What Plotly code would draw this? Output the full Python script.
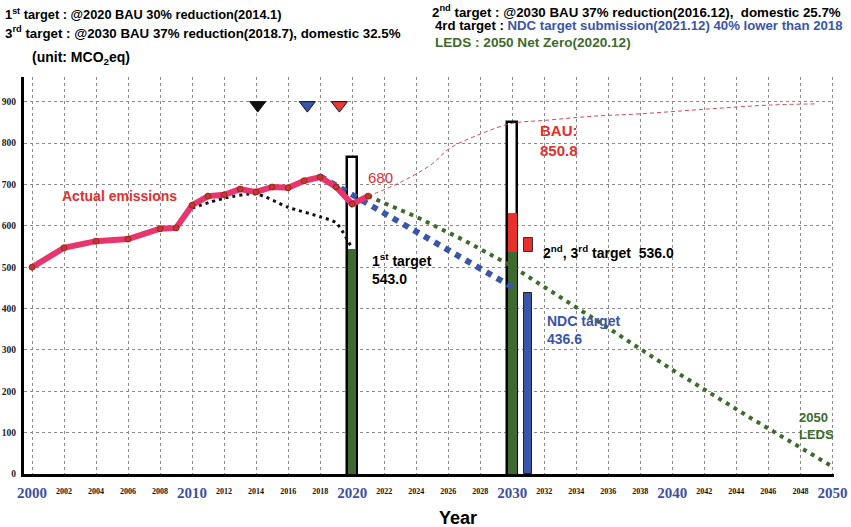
import plotly.graph_objects as go

W, H = 851, 527
ML, MR, MT, MB = 24, 17, 77, 53
X_RANGE = [1999.5, 2050.1]
Y_RANGE = [0, 960]

# ---------------- data ----------------
actual_years = [2000, 2002, 2004, 2006, 2008, 2009, 2010, 2011, 2012, 2013,
                2014, 2015, 2016, 2017, 2018, 2019, 2020, 2021]
actual_vals = [500, 547, 563, 568, 593, 595, 650, 672, 675, 689,
               682, 694, 692, 709, 718, 694, 653, 672]

first_path_years = [2010, 2012, 2014, 2016, 2018, 2019, 2020]
first_path_vals = [643, 667, 677, 645, 622, 607, 545]

bau_years = [2021, 2023, 2025, 2026, 2028, 2030, 2032, 2035, 2038, 2042, 2046, 2049]
bau_vals = [672, 705, 750, 785, 822, 848, 855, 865, 871, 882, 892, 895]

ndc_path_years = [2018, 2030]
ndc_path_vals = [720, 452]

leds_years = [2021, 2024, 2027, 2030, 2035, 2040, 2045, 2050]
leds_vals = [672, 622, 565, 502, 378, 252, 133, 18]

bau_bar_years = [2020, 2030]
bau_bar_vals = [766, 850.8]
target_bar_years = [2020, 2030]
target_bar_vals = [543.0, 536.0]
domestic_bar_year = [2030]
domestic_bar_base = [536.0]
domestic_bar_top = [632.0]
domestic2_bar_year = [2031]
domestic2_bar_base = [536.0]
domestic2_bar_top = [570.0]
ndc_bar_year = [2031]
ndc_bar_val = [436.6]

marker_years = [2014.1, 2017.2, 2019.2]
marker_vals = [892, 892, 892]
marker_colors = ["#111111", "#3b55a8", "#e83a3a"]

minor_ticks = [y for y in range(2002, 2050, 2) if y % 10 != 0]
major_ticks = [2000, 2010, 2020, 2030, 2040, 2050]
y_ticks = [0, 100, 200, 300, 400, 500, 600, 700, 800, 900]

# ---------------- colours ----------------
PINK = "#e8356d"
RED = "#e03030"
BLUE = "#3b55a8"
GREEN = "#3d6b2c"
BARGREEN = "#3f6a2e"
AXBLUE = "#3d4f9f"

fig = go.Figure()

# bars (drawn beneath lines)
fig.add_trace(go.Bar(x=bau_bar_years, y=bau_bar_vals, base=0, width=[0.6, 0.64],
                     marker=dict(color="white", line=dict(color="black", width=2.5)),
                     hoverinfo="skip", showlegend=False))
fig.add_trace(go.Bar(x=target_bar_years, y=target_bar_vals, base=0, width=[0.5, 0.54],
                     marker=dict(color=BARGREEN, line=dict(width=0)),
                     showlegend=False))
fig.add_trace(go.Bar(x=domestic_bar_year,
                     y=[t - b for t, b in zip(domestic_bar_top, domestic_bar_base)],
                     base=domestic_bar_base, width=0.54,
                     marker=dict(color="#e8302c", line=dict(width=0)), showlegend=False))
fig.add_trace(go.Bar(x=domestic2_bar_year,
                     y=[t - b for t, b in zip(domestic2_bar_top, domestic2_bar_base)],
                     base=domestic2_bar_base, width=0.58,
                     marker=dict(color="#e8302c", line=dict(color="#333", width=1)), showlegend=False))
fig.add_trace(go.Bar(x=ndc_bar_year, y=ndc_bar_val, base=0, width=0.5,
                     marker=dict(color=BLUE, line=dict(color="#222", width=1)), showlegend=False))

# lines
fig.add_trace(go.Scatter(x=bau_years, y=bau_vals, mode="lines",
                         line=dict(color="#d04a5a", width=1, dash="4px,3px", shape="spline"),
                         showlegend=False))
fig.add_trace(go.Scatter(x=first_path_years, y=first_path_vals, mode="lines",
                         line=dict(color="#111", width=3, dash="3px,4px", shape="spline", smoothing=0.7),
                         showlegend=False))
fig.add_trace(go.Scatter(x=leds_years, y=leds_vals, mode="lines",
                         line=dict(color=GREEN, width=4, dash="4px,5px"),
                         showlegend=False))
fig.add_trace(go.Scatter(x=ndc_path_years, y=ndc_path_vals, mode="lines",
                         line=dict(color=BLUE, width=6, dash="6px,6px"),
                         showlegend=False))
fig.add_trace(go.Scatter(x=actual_years, y=actual_vals, mode="lines+markers",
                         line=dict(color=PINK, width=6),
                         marker=dict(color="#c0392b", size=6, line=dict(color="#8e1f1f", width=0.8)),
                         showlegend=False))
fig.add_trace(go.Scatter(x=marker_years, y=marker_vals, mode="markers",
                         marker=dict(symbol="triangle-down", size=14, color=marker_colors,
                                     line=dict(color="#111", width=1)),
                         showlegend=False))
# invisible trace for the second x axis (major year labels)
fig.add_trace(go.Scatter(x=major_ticks, y=[None] * len(major_ticks), xaxis="x2",
                         mode="markers", showlegend=False, hoverinfo="skip"))

# ---------------- text ----------------
PW = W - ML - MR
PH = H - MT - MB


def px(x):
    return (x - ML) / PW


def py(y):
    return (H - MB - y) / PH


SANS = "Liberation Sans"
anns = []


def txt(x, y, s, size, color="black", xanchor="left", yanchor="middle", bold=True, align="left"):
    anns.append(dict(x=px(x), y=py(y), xref="paper", yref="paper", text=s, showarrow=False,
                     xanchor=xanchor, yanchor=yanchor, align=align,
                     font=dict(family=SANS, size=size, color=color,
                               weight="bold" if bold else "normal")))


txt(3, 14, "1<sup>st</sup> target : @2020 BAU 30% reduction(2014.1)", 12.8)
txt(3, 32, "3<sup>rd</sup> target : @2030 BAU 37% reduction(2018.7), domestic 32.5%", 13.3)
txt(30, 58, "(unit: MCO<sub>2</sub>eq)", 14)
txt(430, 12, "2<sup>nd</sup> target : @2030 BAU 37% reduction(2016.12),\u00a0 domestic 25.7%", 13.3)
txt(433, 26, "4rd target : <span style='color:" + BLUE + "'>NDC target submission(2021.12) 40% lower than 2018</span>", 13.2)
txt(433, 43, "LEDS : 2050 Net Zero(2020.12)", 13.6, color=GREEN)

txt(60, 196, "Actual emissions", 14, color=RED)
txt(366, 177, "680", 15, color=RED, bold=False)
txt(370, 269, "1<sup>st</sup> target<br>543.0", 14)
txt(538, 140, "BAU:<br>850.8", 15, color=RED)
txt(541, 252, "2<sup>nd</sup>, 3<sup>rd</sup> target\u00a0 536.0", 14)
txt(545, 330, "NDC target<br>436.6", 14, color=BLUE)
txt(797, 426, "2050<br>LEDS", 13, color=GREEN)
txt(458, 518, "Year", 18, xanchor="center")

GRID = dict(showgrid=True, gridcolor="#8a8a8a", gridwidth=1, griddash="dot")

fig.update_layout(
    width=W, height=H,
    margin=dict(l=ML, r=MR, t=MT, b=MB, pad=0, autoexpand=False),
    paper_bgcolor="white", plot_bgcolor="white",
    barmode="overlay", bargap=0,
    annotations=anns,
    xaxis=dict(range=X_RANGE, tickvals=minor_ticks, ticktext=[str(t) for t in minor_ticks],
               tickfont=dict(family="Liberation Serif", size=8, color="#111", weight="bold"),
               ticks="outside", ticklen=7, tickcolor="rgba(0,0,0,0)",
               showline=True, linecolor="black", linewidth=3, zeroline=False, **GRID),
    xaxis2=dict(range=X_RANGE, overlaying="x", anchor="y", side="bottom",
                tickvals=major_ticks, ticktext=[str(t) for t in major_ticks],
                tickfont=dict(family="Liberation Serif", size=15, color=AXBLUE, weight="bold"),
                ticks="outside", ticklen=5, tickcolor="rgba(0,0,0,0)",
                showline=False, zeroline=False, **GRID),
    yaxis=dict(range=Y_RANGE, tickvals=y_ticks, ticktext=[str(t) for t in y_ticks],
               tickfont=dict(family="Liberation Serif", size=9.5, color="#222", weight="bold"),
               ticks="outside", ticklen=3, tickcolor="rgba(0,0,0,0)",
               showline=True, linecolor="black", linewidth=3, zeroline=False, **GRID),
)

fig.write_html("out.html")
